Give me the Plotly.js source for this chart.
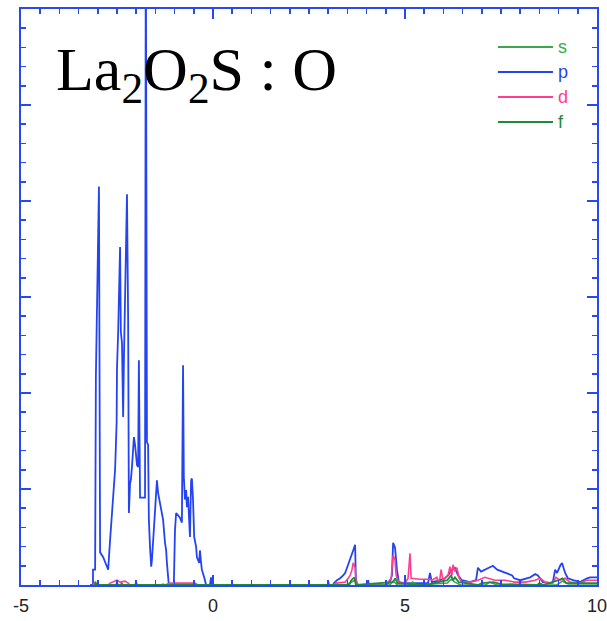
<!DOCTYPE html>
<html>
<head>
<meta charset="utf-8">
<script src="https://cdn.plot.ly/plotly-3.0.1.min.js"></script>
<style>html,body{margin:0;padding:0;background:#fff;}</style>
</head>
<body>
<div id="chart" style="width:607px;height:621px;"></div>
<script>
// Energy (eV) and partial DOS values
const pE = [-3.20,-3.125,-3.125,-3.07,-3.05,-3.00,-2.97,-2.94,-2.86,-2.81,-2.76,-2.73,-2.68,-2.63,-2.60,-2.55,-2.53,-2.51,-2.50,-2.47,-2.42,-2.40,-2.37,-2.34,-2.32,-2.29,-2.24,-2.21,-2.19,-2.16,-2.14,-2.11,-2.08,-2.06,-2.03,-2.01,-1.98,-1.95,-1.93,-1.90,-1.77,-1.75,-1.72,-1.69,-1.67,-1.64,-1.61,-1.59,-1.56,-1.51,-1.48,-1.46,-1.43,-1.38,-1.33,-1.30,-1.25,-1.22,-1.20,-1.17,-1.15,-1.02,-0.99,-0.96,-0.91,-0.86,-0.81,-0.78,-0.76,-0.73,-0.70,-0.68,-0.65,-0.63,-0.60,-0.57,-0.55,-0.52,-0.49,-0.44,-0.42,-0.36,-0.34,-0.31,-0.29,-0.23,-0.18,-0.08,-0.05,-0.04,-0.03,
  2.92,3.00,3.00,3.02,3.125,3.15,3.23,3.31,3.39,3.44,3.49,3.54,3.57,3.62,3.65,3.70,3.72,3.75,4.01,4.04,4.06,4.48,4.61,4.66,4.69,4.74,4.77,4.79,4.84,5.00,5.39,5.60,5.65,5.70,5.91,6.04,6.12,6.22,6.30,6.38,6.48,6.69,6.85,6.90,6.98,7.08,7.19,7.29,7.40,7.53,7.66,7.79,7.84,8.00,8.26,8.39,8.46,8.52,8.59,8.78,8.85,8.91,8.96,9.04,9.09,9.17,9.24,9.38,9.56,9.74,9.82,10.0];
const pD = [0,0,0.16,0.16,2.17,3.20,4.15,0.34,0.29,0.24,0.19,0.16,0.47,0.75,0.96,1.20,1.44,1.69,2.26,2.63,3.52,2.64,2.52,1.75,2.34,2.94,4.07,2.76,0.75,1.06,1.09,1.23,1.44,1.54,1.46,1.33,1.25,1.23,2.34,0.91,0.91,7.0,1.49,1.46,0.68,0.40,0.19,0.26,0.47,0.71,0.96,1.09,0.96,0.85,0.78,0.68,0.44,0.36,0.23,0.05,0,0,0.57,0.75,0.73,0.70,0.65,2.29,1.13,0.89,0.99,0.81,0.92,0.71,0.50,1.09,1.11,0.89,0.50,0.40,0.29,0.23,0.36,0.23,0.16,0.08,0,0,0.08,0,null,
  0,0,0.04,0,0,0.02,0.05,0.07,0.10,0.125,0.18,0.23,0.26,0.31,0.36,0.42,0.07,0,0,0.05,0,0,0.03,0.10,0.44,0.39,0.26,0.16,0.03,0.02,0.02,0.02,0.125,0.03,0.05,0.07,0.10,0.16,0.18,0.10,0.05,0.03,0.05,0.18,0.14,0.16,0.18,0.20,0.16,0.14,0.125,0.10,0.07,0.05,0.08,0.115,0.10,0.07,0.03,0.02,0.03,0.16,0.125,0.20,0.23,0.125,0.07,0.05,0.03,0.07,0.08,0.08];

const dE = [-3.125,-3.07,-3.02,-2.73,-2.68,-2.60,-2.50,-2.42,-2.29,-2.21,-2.16,-1.25,-1.12,-0.86,-0.47,-0.39,
  3.125,3.20,3.44,3.52,3.57,3.62,3.65,3.70,3.72,3.78,4.48,4.56,4.64,4.69,4.74,4.77,4.84,5.00,5.08,5.13,5.16,5.39,5.65,5.70,5.78,5.83,5.86,5.91,5.94,5.99,6.12,6.17,6.22,6.25,6.30,6.35,6.41,6.48,6.69,6.90,7.08,7.34,7.60,7.86,8.13,8.39,8.52,8.65,8.85,8.93,9.04,9.17,9.30,9.56,9.74,10.0];
const dD = [0,0.03,0,0,0.02,0.03,0.05,0.03,0.04,0.02,0,0,0.02,0.02,0.02,0,
  0,0.02,0.03,0.07,0.10,0.16,0.23,0.18,0.05,0,0,0.03,0.07,0.31,0.26,0.10,0.02,0.02,0.07,0.33,0.07,0.06,0.06,0.05,0.07,0.08,0.02,0.07,0.16,0.05,0.10,0.19,0.10,0.21,0.14,0.18,0.07,0.03,0.03,0.05,0.08,0.05,0.05,0.03,0.03,0.05,0.07,0.03,0.02,0.08,0.05,0.07,0.03,0.02,0.05,0.05];

const sE = [-3.10,-3.07,-3.04,-2.55,-2.50,-2.45,-2.05,-2.00,-1.95,-1.35,-1.30,-1.25,
  3.45,3.60,3.70,3.74,4.60,4.70,4.80,5.10,5.20,5.30,6.10,6.20,6.30,6.45,7.10,7.20,7.40,8.95,9.10,9.25,10.0];
const sD = [0,0.02,0,0,0.02,0,0,0.02,0,0,0.01,0,
  0,0.03,0.05,0,0,0.04,0,0,0.03,0,0.02,0.06,0.03,0,0,0.03,0,0,0.04,0.01,0.01];

const fE = [-3.08,-3.05,-3.02,-2.40,-2.38,-2.35,
  3.55,3.60,3.68,3.72,4.68,4.75,4.80,5.45,5.50,5.55,6.10,6.20,6.25,6.30,6.40,6.90,7.00,7.30,7.50,8.45,8.50,8.60,9.00,9.10,9.20,9.60,10.0];
const fD = [0,0.02,0,0,0.02,0,
  0,0.05,0.08,0,0.03,0.07,0.02,0,0.02,0,0.05,0.10,0.05,0.08,0.03,0,0.02,0.03,0.01,0,0.02,0,0.05,0.07,0.02,0.02,0.02];

const seriesNames = ['s','p','d','f'];
const seriesColors = {s:'#3aa84a', p:'#2444f2', d:'#ff3d8f', f:'#1f8a3c'};
const xTickVals = [-5,0,5,10];
const xTickText = ['-5','0','5','10'];
const titleText = 'La<sub>2</sub>O<sub>2</sub>S : O';

const axisColor = '#2a48f0';
const traces = [
  {x:pE, y:pD, name:'p', mode:'lines', line:{color:seriesColors.p, width:1.8}, connectgaps:false},
  {x:dE, y:dD, name:'d', mode:'lines', line:{color:seriesColors.d, width:1.6}},
  {x:sE, y:sD, name:'s', mode:'lines', line:{color:seriesColors.s, width:1.6}},
  {x:fE, y:fD, name:'f', mode:'lines', line:{color:seriesColors.f, width:1.8}}
];

// manual legend (line sample + coloured label)
const shapes = [];
const annotations = [{
  xref:'paper', yref:'paper', x:0.058, y:0.818, xanchor:'left', yanchor:'bottom',
  text:titleText, showarrow:false,
  font:{family:'Liberation Serif, Times New Roman, serif', size:62, color:'#000'}
}];
const legY = [0.934, 0.8906, 0.8472, 0.8038];
seriesNames.forEach((n, i) => {
  shapes.push({type:'line', xref:'paper', yref:'paper', x0:0.828, x1:0.9236, y0:legY[i], y1:legY[i],
    line:{color:seriesColors[n], width:1.8}});
  annotations.push({xref:'paper', yref:'paper', x:0.929, y:legY[i], xanchor:'left', yanchor:'middle',
    text:n, showarrow:false, font:{family:'Liberation Sans, Arial, sans-serif', size:18, color:seriesColors[n]}});
});

const layout = {
  width:607, height:621,
  margin:{l:21, r:10, t:9, b:36},
  paper_bgcolor:'#fff', plot_bgcolor:'#fff',
  showlegend:false,
  xaxis:{range:[-5,10], tickvals:xTickVals, ticktext:xTickText, ticks:'inside', ticklen:10, tickwidth:1.5,
    tickcolor:axisColor, showline:true, linecolor:axisColor, linewidth:2, mirror:'allticks',
    showgrid:false, zeroline:false, ticklabeloverflow:'allow', ticklabelstandoff:3,
    minor:{dtick:0.5, ticks:'inside', ticklen:5, tickwidth:1.5, tickcolor:axisColor, showgrid:false},
    tickfont:{family:'Liberation Sans, Arial, sans-serif', size:18, color:'#222'}},
  yaxis:{range:[0,6], dtick:1, ticks:'inside', ticklen:10, tickwidth:1.5, tickcolor:axisColor,
    showline:true, linecolor:axisColor, linewidth:2, mirror:'allticks', showticklabels:false,
    showgrid:false, zeroline:false,
    minor:{dtick:0.2, ticks:'inside', ticklen:5, tickwidth:1.5, tickcolor:axisColor, showgrid:false}},
  shapes:shapes,
  annotations:annotations
};
Plotly.newPlot('chart', traces, layout, {displayModeBar:false, staticPlot:true});
</script>
</body>
</html>
